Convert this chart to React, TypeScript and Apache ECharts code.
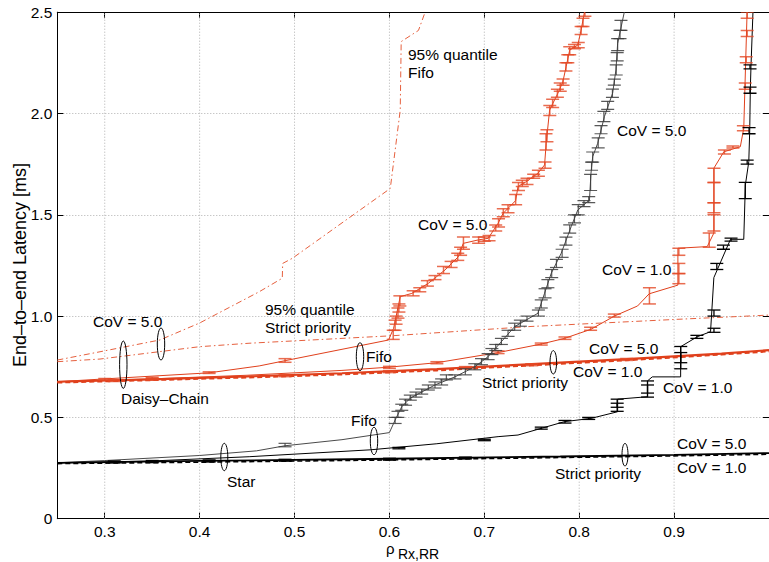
import React, { useEffect, useRef } from "react";
import * as echarts from "echarts";

// ---------- axis ticks ----------
const xTicks = [0.3, 0.4, 0.5, 0.6, 0.7, 0.8, 0.9];
const yTicks = [0, 0.5, 1.0, 1.5, 2.0, 2.5];

// ---------- Daisy-Chain (red) ----------
const fifo95 = [
  [0.25, 0.783], [0.295, 0.824], [0.358, 0.882], [0.4, 0.966], [0.4627, 1.12], [0.4871, 1.187],
  [0.4875, 1.26], [0.4976, 1.285], [0.6009, 1.63], [0.6114, 2.017], [0.6124, 2.355],
  [0.6306, 2.41], [0.6376, 2.5],
];
const sp95 = [
  [0.25, 0.775], [0.295, 0.788], [0.4, 0.849], [0.452, 0.866], [0.603, 0.903],
  [0.746, 0.948], [0.903, 0.984], [1.0, 1.005],
];
const redFifo5 = [
  [0.25, 0.676], [0.3, 0.69], [0.41, 0.72], [0.4627, 0.754], [0.49, 0.78], [0.5991, 0.882],
  [0.6044, 0.94], [0.6114, 1.096], [0.6236, 1.112], [0.6411, 1.162], [0.6586, 1.228],
  [0.6726, 1.293], [0.6778, 1.359], [0.6936, 1.376], [0.7041, 1.384], [0.7145, 1.458],
  [0.7198, 1.507], [0.733, 1.57], [0.7355, 1.639], [0.744, 1.663], [0.7565, 1.705],
  [0.7635, 1.746], [0.7652, 1.853], [0.7688, 2.017], [0.7775, 2.1], [0.7827, 2.155],
  [0.7862, 2.231], [0.79, 2.313], [0.7985, 2.338], [0.802, 2.412], [0.8055, 2.5],
];
const redFifo1 = [
  [0.25, 0.676], [0.35, 0.69], [0.45, 0.708], [0.55, 0.732], [0.6, 0.748], [0.65, 0.77],
  [0.7145, 0.82], [0.76, 0.862], [0.7845, 0.89], [0.8124, 0.935], [0.837, 1.0],
  [0.8615, 1.05], [0.8737, 1.11], [0.904, 1.153], [0.904, 1.335], [0.9349, 1.343],
  [0.9419, 1.41], [0.9419, 1.73], [0.9524, 1.811], [0.9698, 1.836], [0.9734, 1.927],
  [0.9769, 2.5],
];
const redSP5 = [
  [0.25, 0.676], [0.35, 0.688], [0.45, 0.702], [0.55, 0.718], [0.65, 0.738],
  [0.75, 0.763], [0.85, 0.788], [0.95, 0.815], [1.0, 0.832],
];
const redSP1 = [
  [0.25, 0.672], [0.35, 0.684], [0.45, 0.697], [0.55, 0.712], [0.65, 0.732],
  [0.75, 0.757], [0.85, 0.782], [0.95, 0.81], [1.0, 0.826],
];

// ---------- Star (black / gray) ----------
const grayFifo5 = [
  [0.25, 0.276], [0.3, 0.287], [0.4, 0.312], [0.46, 0.335], [0.49, 0.36], [0.55, 0.39],
  [0.6, 0.425], [0.606, 0.487], [0.613, 0.553], [0.622, 0.595], [0.634, 0.625], [0.648, 0.66],
  [0.669, 0.7], [0.69, 0.75], [0.704, 0.8], [0.718, 0.874], [0.732, 0.948], [0.7565, 1.014],
  [0.7635, 1.113], [0.7705, 1.211], [0.781, 1.31], [0.7915, 1.441], [0.7985, 1.524],
  [0.8108, 1.573], [0.8124, 1.705], [0.8142, 1.787], [0.8195, 1.853], [0.8265, 1.984],
  [0.8352, 2.1], [0.8387, 2.215], [0.8405, 2.346], [0.8475, 2.5],
];
const blackFifo1 = [
  [0.25, 0.276], [0.35, 0.285], [0.4522, 0.306], [0.58, 0.34], [0.65, 0.37], [0.7145, 0.405],
  [0.7355, 0.413], [0.76, 0.446], [0.7845, 0.479], [0.8124, 0.495], [0.8405, 0.528],
  [0.8405, 0.59], [0.8719, 0.602], [0.8719, 0.68], [0.877, 0.7], [0.9069, 0.7],
  [0.9069, 0.849], [0.9244, 0.898], [0.9384, 0.923], [0.9419, 1.19], [0.9594, 1.379],
  [0.9734, 1.379], [0.9751, 1.647], [0.9787, 1.762], [0.9797, 1.919], [0.9803, 2.116],
  [0.981, 2.231], [0.9831, 2.5],
];
const blackSP5 = [
  [0.25, 0.276], [0.4, 0.285], [0.6, 0.296], [0.78, 0.307], [0.9, 0.315], [1.0, 0.324],
];
const blackSP1 = [
  [0.25, 0.272], [0.4, 0.279], [0.6, 0.29], [0.78, 0.302], [0.9, 0.31], [1.0, 0.318],
];

// ---------- error bars [x, low, high] ----------
const redFifo5Err = [
  [0.3, 0.684, 0.692], [0.35, 0.69, 0.698], [0.41, 0.717, 0.725], [0.49, 0.772, 0.79],
  [0.604, 0.885, 0.93], [0.606, 0.93, 0.98], [0.607, 0.96, 1.0], [0.609, 0.99, 1.04],
  [0.61, 1.02, 1.06], [0.611, 1.05, 1.1], [0.625, 1.1, 1.125], [0.632, 1.12, 1.14],
  [0.64, 1.148, 1.175], [0.648, 1.18, 1.2], [0.657, 1.21, 1.245], [0.665, 1.24, 1.27],
  [0.672, 1.275, 1.31], [0.675, 1.3, 1.34], [0.678, 1.33, 1.39], [0.694, 1.36, 1.39],
  [0.7, 1.37, 1.39], [0.705, 1.372, 1.398], [0.712, 1.42, 1.45], [0.715, 1.44, 1.48],
  [0.72, 1.49, 1.53], [0.725, 1.51, 1.55], [0.733, 1.55, 1.6], [0.736, 1.62, 1.66],
  [0.74, 1.64, 1.67], [0.745, 1.65, 1.68], [0.752, 1.68, 1.7], [0.757, 1.69, 1.72],
  [0.764, 1.73, 1.76], [0.765, 1.82, 1.9], [0.766, 1.86, 1.92], [0.769, 1.99, 2.04],
  [0.772, 2.03, 2.07], [0.777, 2.08, 2.12], [0.78, 2.11, 2.15], [0.783, 2.14, 2.17],
  [0.786, 2.21, 2.25], [0.788, 2.25, 2.29], [0.79, 2.29, 2.33], [0.795, 2.32, 2.34],
  [0.799, 2.325, 2.35], [0.802, 2.39, 2.43], [0.804, 2.43, 2.47], [0.806, 2.48, 2.52],
];
const redFifo1Err = [
  [0.6, 0.742, 0.752], [0.65, 0.765, 0.775], [0.7145, 0.815, 0.828], [0.76, 0.857, 0.867],
  [0.785, 0.885, 0.897], [0.812, 0.93, 0.945], [0.837, 0.995, 1.01], [0.874, 1.06, 1.14],
  [0.905, 1.16, 1.21], [0.905, 1.21, 1.26], [0.905, 1.3, 1.335], [0.937, 1.34, 1.41],
  [0.942, 1.42, 1.5], [0.942, 1.51, 1.56], [0.942, 1.56, 1.66], [0.942, 1.66, 1.73],
  [0.953, 1.8, 1.82], [0.962, 1.83, 1.84], [0.973, 1.915, 1.94], [0.975, 2.12, 2.15],
  [0.976, 2.25, 2.28], [0.977, 2.38, 2.41], [0.977, 2.47, 2.5],
];
const redSPErr = [
  [0.31, 0.678, 0.686], [0.35, 0.684, 0.692], [0.49, 0.702, 0.71], [0.6, 0.722, 0.73],
  [0.68, 0.742, 0.75], [0.75, 0.756, 0.764], [0.85, 0.782, 0.79],
];
const grayFifo5Err = [
  [0.49, 0.355, 0.372], [0.606, 0.47, 0.5], [0.609, 0.5, 0.53], [0.613, 0.535, 0.565],
  [0.617, 0.56, 0.59], [0.622, 0.585, 0.61], [0.628, 0.6, 0.625], [0.634, 0.615, 0.64],
  [0.641, 0.635, 0.66], [0.648, 0.645, 0.675], [0.655, 0.66, 0.69], [0.66, 0.685, 0.71],
  [0.669, 0.69, 0.71], [0.68, 0.71, 0.74], [0.69, 0.735, 0.765], [0.697, 0.76, 0.79],
  [0.704, 0.785, 0.815], [0.708, 0.81, 0.84], [0.712, 0.83, 0.86], [0.718, 0.86, 0.89],
  [0.725, 0.9, 0.93], [0.732, 0.93, 0.965], [0.738, 0.95, 0.98], [0.745, 0.975, 1.0],
  [0.757, 1.0, 1.03], [0.76, 1.04, 1.08], [0.764, 1.09, 1.135], [0.767, 1.14, 1.18],
  [0.771, 1.19, 1.23], [0.776, 1.24, 1.28], [0.782, 1.29, 1.33], [0.786, 1.35, 1.39],
  [0.79, 1.41, 1.45], [0.795, 1.46, 1.5], [0.799, 1.5, 1.55], [0.805, 1.54, 1.57],
  [0.81, 1.56, 1.59], [0.812, 1.62, 1.7], [0.813, 1.72, 1.76], [0.8142, 1.76, 1.81],
  [0.82, 1.83, 1.88], [0.823, 1.9, 1.94], [0.826, 1.96, 2.01], [0.83, 2.02, 2.06],
  [0.835, 2.08, 2.12], [0.837, 2.14, 2.17], [0.839, 2.19, 2.24], [0.84, 2.26, 2.3],
  [0.8405, 2.31, 2.37], [0.843, 2.37, 2.41], [0.844, 2.41, 2.46],
];
const blackFifo1Err = [
  [0.61, 0.345, 0.352], [0.7, 0.385, 0.392], [0.76, 0.442, 0.452], [0.785, 0.472, 0.485],
  [0.81, 0.49, 0.5], [0.84, 0.53, 0.59], [0.84, 0.55, 0.57], [0.872, 0.6, 0.68],
  [0.872, 0.62, 0.66], [0.907, 0.74, 0.85], [0.907, 0.77, 0.82], [0.924, 0.89, 0.905],
  [0.942, 0.92, 0.94], [0.942, 1.0, 1.03], [0.945, 1.23, 1.26], [0.952, 1.33, 1.35],
  [0.96, 1.37, 1.385], [0.975, 1.58, 1.66], [0.977, 1.75, 1.77], [0.979, 1.9, 1.93],
  [0.98, 2.1, 2.13], [0.98, 2.22, 2.24],
];
const blackSPErr = [
  [0.31, 0.276, 0.284], [0.35, 0.278, 0.286], [0.41, 0.281, 0.289], [0.49, 0.285, 0.292],
  [0.6, 0.29, 0.297], [0.68, 0.296, 0.303],
];

const RED = "#e0401c";
const RED_ERR = "rgba(228,72,38,0.8)";
const RED95 = "#e6603e";
const GRAY = "#4a4a4a";
const GRAY_ERR = "rgba(60,60,60,0.85)";
const BLACK = "#000";
const FONT = "Liberation Sans, Arial, Helvetica, sans-serif";
const FS = 15.5;

function lineSeries(name: string, data: number[][], color: string, width: number, type: any = "solid", z = 3) {
  return {
    name,
    type: "line",
    data,
    showSymbol: false,
    symbol: "none",
    z,
    clip: true,
    lineStyle: { color, width, type },
  };
}

function errSeries(name: string, data: number[][], color: string, lw = 1.3, z = 4) {
  return {
    name,
    type: "custom",
    data,
    z,
    clip: true,
    encode: { x: 0, y: [1, 2] },
    renderItem: (params: any, api: any) => {
      const x = api.value(0);
      const lo = api.value(1);
      const hi = api.value(2);
      const a = api.coord([x, lo]);
      const b = api.coord([x, hi]);
      const w = 6.5;
      const st = { stroke: color, lineWidth: lw };
      return {
        type: "group",
        children: [
          { type: "line", shape: { x1: a[0], y1: a[1], x2: b[0], y2: b[1] }, style: st },
          { type: "line", shape: { x1: a[0] - w, y1: a[1], x2: a[0] + w, y2: a[1] }, style: st },
          { type: "line", shape: { x1: b[0] - w, y1: b[1], x2: b[0] + w, y2: b[1] }, style: st },
        ],
      };
    },
  };
}

function txt(text: string, x: number, y: number, size = FS, align = "left") {
  return {
    type: "text",
    x,
    y,
    z: 100,
    style: { text, fontSize: size, fontFamily: FONT, fill: "#000", align, verticalAlign: "middle" },
  };
}

function ell(cx: number, cy: number, rx: number, ry: number) {
  return {
    type: "ellipse",
    z: 100,
    shape: { cx, cy, rx, ry },
    style: { fill: "none", stroke: "#000", lineWidth: 1 },
  };
}

export default function App() {
  const ref = useRef<HTMLDivElement>(null);
  useEffect(() => {
    const chart = echarts.init(ref.current!, null, { renderer: "svg" });
    const axisCommon = {
      type: "value",
      axisLine: { show: true, onZero: false, lineStyle: { color: "#000", width: 1 } },
    };
    const option: any = {
      animation: false,
      backgroundColor: "#fff",
      grid: { left: 57.3, top: 12.2, width: 715, height: 506.5, containLabel: false },
      xAxis: [
        {
          ...axisCommon,
          min: 0.25,
          max: 1.0,
          position: "bottom",
          axisTick: { show: true, inside: true, length: 6, customValues: xTicks, lineStyle: { color: "#000" } },
          axisLabel: {
            show: true,
            customValues: xTicks,
            margin: 5,
            color: "#000",
            fontSize: FS,
            fontFamily: FONT,
            formatter: (v: number) => v.toFixed(1),
          },
          splitLine: { show: false },
        },
        {
          ...axisCommon,
          min: 0.25,
          max: 1.0,
          position: "top",
          axisTick: { show: true, inside: true, length: 6, customValues: xTicks, lineStyle: { color: "#000" } },
          axisLabel: { show: false },
          splitLine: { show: false },
        },
      ],
      yAxis: [
        {
          ...axisCommon,
          min: yTicks[0],
          max: yTicks[yTicks.length - 1],
          interval: 0.5,
          position: "left",
          axisTick: { show: true, inside: true, length: 6, lineStyle: { color: "#000" } },
          axisLabel: {
            show: true,
            margin: 5,
            color: "#000",
            fontSize: FS,
            fontFamily: FONT,
            formatter: (v: number) => (v === 0 ? "0" : v.toFixed(1)),
          },
          splitLine: { show: true, lineStyle: { color: "#b0b0b0", width: 1, type: [1, 2] } },
        },
        {
          ...axisCommon,
          min: yTicks[0],
          max: yTicks[yTicks.length - 1],
          interval: 0.5,
          position: "right",
          axisTick: { show: true, inside: true, length: 6, lineStyle: { color: "#000" } },
          axisLabel: { show: false },
          splitLine: { show: false },
        },
      ],
      series: [
        {
          name: "xgrid",
          type: "custom",
          data: xTicks.map((v) => [v]),
          z: 1,
          silent: true,
          encode: { x: 0 },
          renderItem: (params: any, api: any) => {
            const v = api.value(0);
            const a = api.coord([v, 0]);
            const b = api.coord([v, 2.5]);
            return {
              type: "line",
              shape: { x1: a[0], y1: a[1], x2: b[0], y2: b[1] },
              style: { stroke: "#b0b0b0", lineWidth: 1, lineDash: [1, 2] },
            };
          },
        },
        lineSeries("fifo95", fifo95, RED95, 1, [6, 3, 1.5, 3]),
        lineSeries("sp95", sp95, RED95, 1, [6, 3, 1.5, 3]),
        lineSeries("redSP1", redSP1, RED, 2, [5, 3]),
        lineSeries("redSP5", redSP5, RED, 2.2),
        lineSeries("redFifo1", redFifo1, RED, 1),
        lineSeries("redFifo5", redFifo5, RED, 1),
        lineSeries("grayFifo5", grayFifo5, GRAY, 1),
        lineSeries("blackFifo1", blackFifo1, BLACK, 1),
        lineSeries("blackSP1", blackSP1, BLACK, 1.6, [5, 3]),
        lineSeries("blackSP5", blackSP5, BLACK, 1.8),
        errSeries("redFifo5Err", redFifo5Err, RED_ERR, 1.5),
        errSeries("redFifo1Err", redFifo1Err, RED_ERR, 1.5),
        errSeries("redSPErr", redSPErr, RED_ERR, 1.8),
        errSeries("grayFifo5Err", grayFifo5Err, GRAY_ERR, 1.2),
        errSeries("blackFifo1Err", blackFifo1Err, BLACK, 1.3),
        errSeries("blackSPErr", blackSPErr, BLACK, 1.8),
      ],
      graphic: [
        {
          type: "text",
          x: 19.5,
          y: 265,
          rotation: Math.PI / 2,
          z: 100,
          style: {
            text: "End–to–end Latency [ms]",
            fontSize: 18,
            fontFamily: FONT,
            fill: "#000",
            align: "center",
            verticalAlign: "middle",
          },
        },
        txt("ρ", 386, 548, 15),
        txt("Rx,RR", 398, 554, 14),
        txt("95% quantile", 408, 54),
        txt("Fifo", 408, 72),
        txt("CoV = 5.0", 418, 224),
        txt("CoV = 5.0", 617, 130),
        txt("CoV = 1.0", 602, 269),
        txt("CoV = 5.0", 93, 321),
        txt("95% quantile", 265, 309),
        txt("Strict priority", 265, 327),
        txt("Fifo", 366, 356),
        txt("Daisy–Chain", 121, 398),
        txt("Strict priority", 482, 382),
        txt("CoV = 5.0", 589, 348),
        txt("CoV = 1.0", 573, 371),
        txt("CoV = 1.0", 663, 387),
        txt("Fifo", 351, 420),
        txt("Star", 227, 481),
        txt("CoV = 5.0", 677, 443),
        txt("CoV = 1.0", 677, 467),
        txt("Strict priority", 555, 473),
        ell(123.3, 364.7, 3.7, 23.7),
        ell(161, 344, 3.7, 16),
        ell(224.3, 457, 3.5, 13.7),
        ell(360, 356.7, 3.7, 14),
        ell(374, 441, 3.7, 13.7),
        ell(553.3, 362.3, 3.3, 11.7),
        ell(625, 454.7, 3, 11.3),
      ],
    };
    chart.setOption(option);
    return () => chart.dispose();
  }, []);
  return (
    <div
      ref={ref}
      style={{ position: "fixed", left: 0, top: 0, width: 769, height: 562, background: "#fff" }}
    />
  );
}
